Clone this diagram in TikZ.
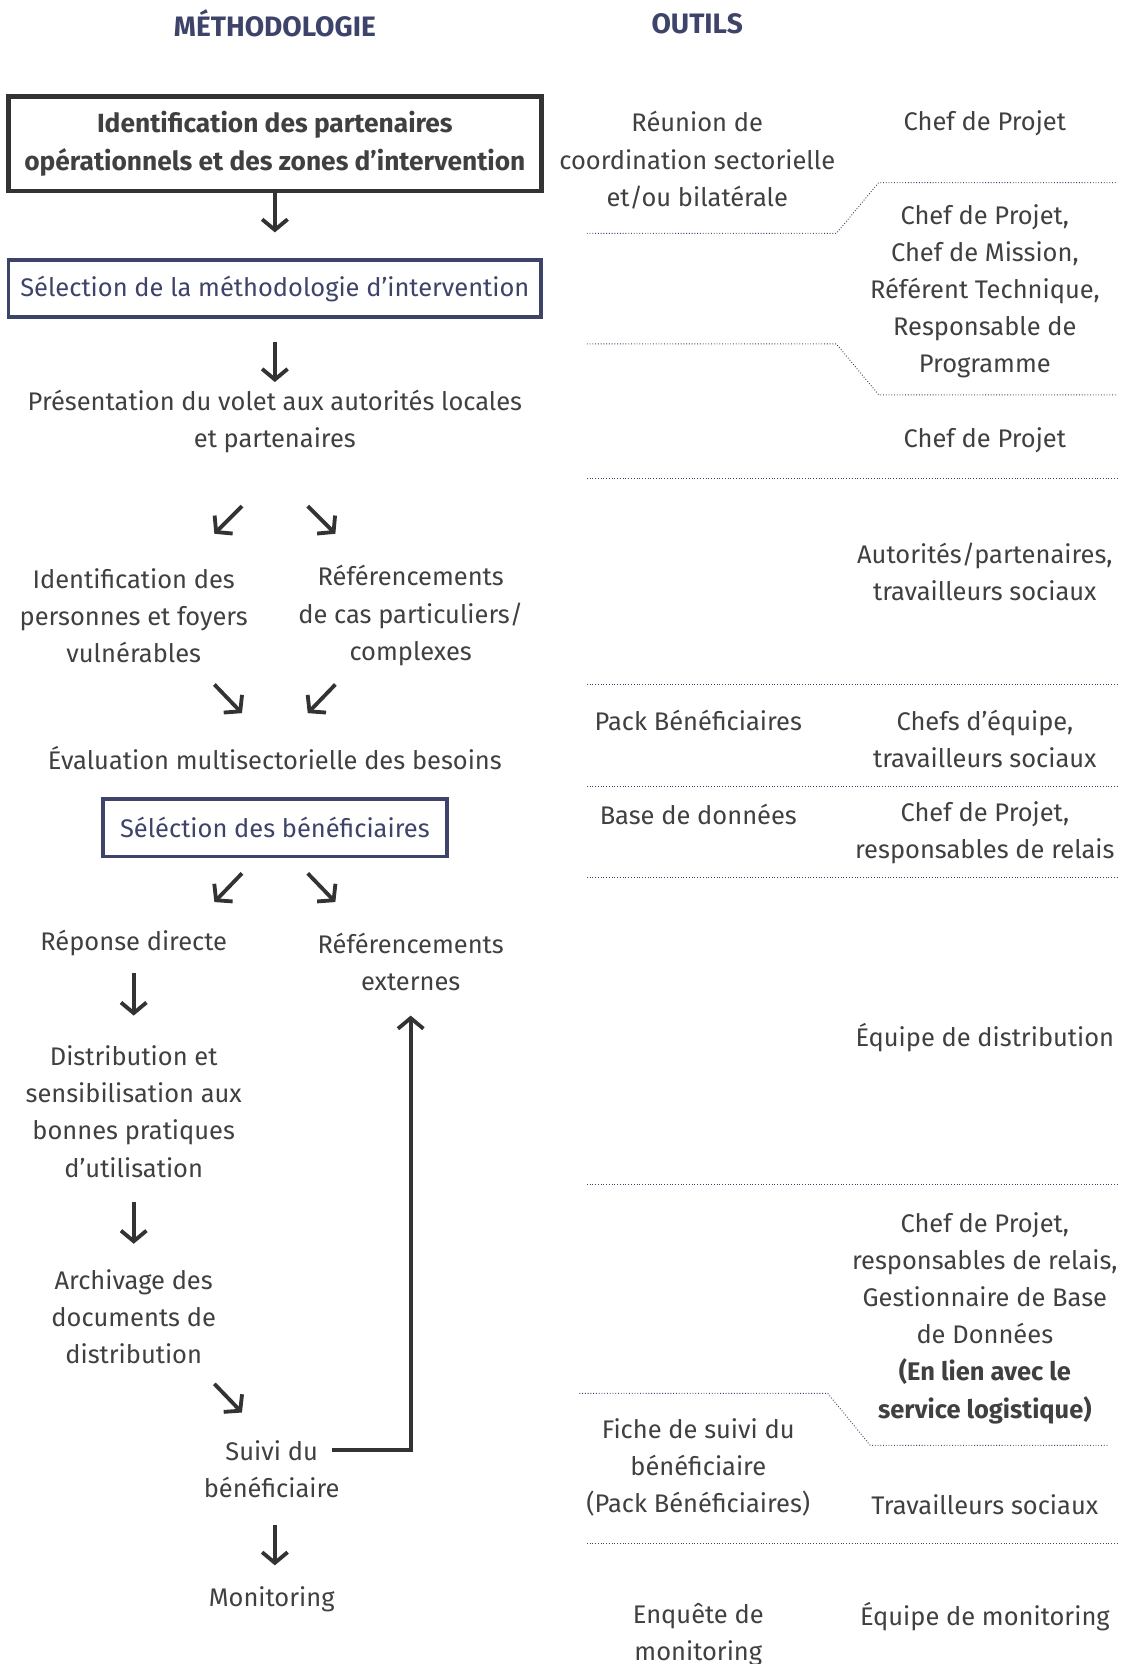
\documentclass[tikz,border=0pt]{standalone}
\usepackage{fontspec}
\setmainfont{Fira Sans}
\usetikzlibrary{arrows.meta}
\definecolor{txt}{HTML}{404040}
\definecolor{slate}{HTML}{3E4369}
\definecolor{dark}{HTML}{333333}
\begin{document}
\begin{tikzpicture}[x=1pt,y=-1pt,
  every node/.style={font=\fontsize{24}{35}\selectfont, text=txt, align=center, inner sep=0pt},
  head/.style={font=\fontsize{26.5}{30}\selectfont\bfseries, text=slate},
  bigbox/.style={draw=dark, line width=4.5pt, minimum width=502pt, minimum height=89pt, font=\fontsize{24.8}{35}\selectfont\bfseries},
  bluebox/.style={draw=slate, line width=3.6pt, minimum height=54pt, text=slate},
  arr/.style={draw=dark, line width=3.6pt, -{Straight Barb[length=10pt,width=24pt,line width=3.6pt]}},
  sep/.style={draw=slate, line width=0.9pt, dash pattern=on 0.8pt off 1.8pt},
]
\fill[white] (0,0) rectangle (1068,1568);
\useasboundingbox (0,0) rectangle (1068,1568);

% headers
\node[head] (hmeth) at (259,22) {MÉTHODOLOGIE};
\node[head] (hout) at (657,22) {OUTILS};

% methodology column
\node[bigbox] (b1) at (259,135.5) {Identification des partenaires\\opérationnels et des zones d’intervention};
\node[bluebox, minimum width=502pt] (b2) at (259,272) {Sélection de la méthodologie d’intervention};
\node (pres) at (259,397.5) {Présentation du volet aux autorités locales\\et partenaires};
\node (idp) at (126,580) {Identification des\\personnes et foyers\\vulnérables};
\node (refcas) at (387,580) {Référencements\\de cas particuliers/\\complexes};
\node (eval) at (259,714) {Évaluation multisectorielle des besoins};
\node[bluebox, minimum width=324pt] (b3) at (259,780) {Séléction des bénéficiaires};
\node (rdir) at (126,889) {Réponse directe};
\node (refext) at (387,906.5) {Référencements\\externes};
\node (distr) at (126,1047.5) {Distribution et\\sensibilisation aux\\bonnes pratiques\\d’utilisation};
\node (arch) at (126,1241) {Archivage des\\documents de\\distribution};
\node (suivi) at (256,1384.5) {Suivi du\\bénéficiaire};
\node (monit) at (256,1507) {Monitoring};

% arrow end points
\coordinate (a1s) at (259,181); \coordinate (a1e) at (259,219);
\coordinate (a2s) at (259,322); \coordinate (a2e) at (259,360);
\coordinate (d1s) at (228,477); \coordinate (d1e) at (202,503);
\coordinate (d2s) at (290,477); \coordinate (d2e) at (316,503);
\coordinate (d3s) at (202,645); \coordinate (d3e) at (228,672);
\coordinate (d4s) at (316,645); \coordinate (d4e) at (290,672);
\coordinate (d5s) at (228,823); \coordinate (d5e) at (202,850);
\coordinate (d6s) at (290,823); \coordinate (d6e) at (316,850);
\coordinate (a3s) at (126,917); \coordinate (a3e) at (126,957);
\coordinate (a4s) at (126,1133); \coordinate (a4e) at (126,1172);
\coordinate (d7s) at (202,1304); \coordinate (d7e) at (228,1331);
\coordinate (a5s) at (259,1437); \coordinate (a5e) at (259,1475);
\coordinate (fbs) at (313,1366); \coordinate (fbe) at (387,957);

\draw[arr] (a1s) -- (a1e);
\draw[arr] (a2s) -- (a2e);
\draw[arr] (d1s) -- (d1e);
\draw[arr] (d2s) -- (d2e);
\draw[arr] (d3s) -- (d3e);
\draw[arr] (d4s) -- (d4e);
\draw[arr] (d5s) -- (d5e);
\draw[arr] (d6s) -- (d6e);
\draw[arr] (a3s) -- (a3e);
\draw[arr] (a4s) -- (a4e);
\draw[arr] (d7s) -- (d7e);
\draw[arr] (a5s) -- (a5e);
\draw[arr] (fbs) -| (fbe);

% tools column
\node (reunion) at (657,151) {Réunion de\\coordination sectorielle\\et/ou bilatérale};
\node (cp1) at (928,116) {Chef de Projet};
\node (cp2) at (928,274.5) {Chef de Projet,\\Chef de Mission,\\Référent Technique,\\Responsable de\\Programme};
\node (cp3) at (928,415) {Chef de Projet};
\node (auto) at (928,538.5) {Autorités/partenaires,\\travailleurs sociaux};
\node (pack) at (658,679) {Pack Bénéficiaires};
\node (chefs) at (928,696.5) {Chefs d’équipe,\\travailleurs sociaux};
\node (bdd) at (658,767) {Base de données};
\node (cp4) at (928,784.5) {Chef de Projet,\\responsables de relais};
\node (equipe) at (928,978) {Équipe de distribution};
\node (cp5) at (928,1242) {Chef de Projet,\\responsables de relais,\\Gestionnaire de Base\\de Données\\\textbf{(En lien avec le}\\\textbf{service logistique)}};
\node (fiche) at (658,1382.5) {Fiche de suivi du\\bénéficiaire\\(Pack Bénéficiaires)};
\node (trav) at (928,1418) {Travailleurs sociaux};
\node (enq) at (658,1540.5) {Enquête de\\monitoring};
\node (eqmon) at (928,1523) {Équipe de monitoring};

% dotted separators
\draw[sep] (553,220) -- (788,220) -- (828,172) -- (1053,172);
\draw[sep] (553,324) -- (788,324) -- (828,372) -- (1053,372);
\draw[sep] (553,451) -- (1053,451);
\draw[sep] (553,645) -- (1053,645);
\draw[sep] (553,741) -- (1053,741);
\draw[sep] (553,827) -- (1053,827);
\draw[sep] (553,1116) -- (1053,1116);
\draw[sep] (546,1313) -- (780,1313) -- (820,1362) -- (1045,1362);
\draw[sep] (553,1454) -- (1053,1454);
\end{tikzpicture}
\end{document}
